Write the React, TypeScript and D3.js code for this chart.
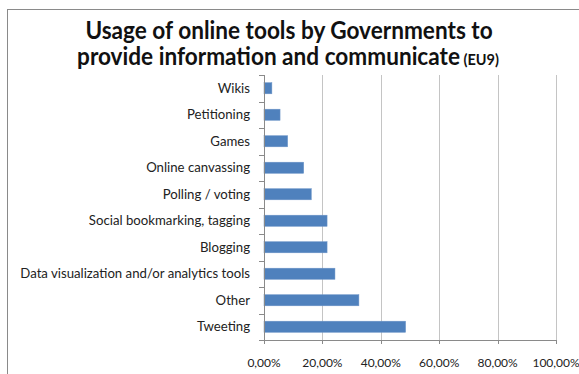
import React from "react";
import * as d3 from "d3";

const categories = [
  "Wikis",
  "Petitioning",
  "Games",
  "Online canvassing",
  "Polling / voting",
  "Social bookmarking, tagging",
  "Blogging",
  "Data visualization and/or analytics tools",
  "Other",
  "Tweeting",
];
const values = [2.7, 5.5, 8.1, 13.6, 16.2, 21.6, 21.6, 24.3, 32.5, 48.5];
const xTicks = [0, 20, 40, 60, 80, 100];
const titleLine1 = "Usage of online tools by Governments to";
const titleLine2 = "provide information and communicate";
const titleSuffix = " (EU9)";

const W = 579;
const H = 374;
const font = "Lato, 'Open Sans', sans-serif";

export default function App() {
  const x = d3.scaleLinear().domain([0, 100]).range([264, 556]);
  const y = d3.scaleBand<string>().domain(categories).range([75, 340]).paddingInner(0.58).paddingOuter(0.29);
  const band = d3.scaleBand<string>().domain(categories).range([75, 340]);
  const fmt = (v: number) => v.toFixed(2).replace(".", ",") + "%";

  return (
    <svg width={W} height={H} style={{ position: "absolute", left: 0, top: 0, background: "#fff" }}>
      <rect x={7.5} y={9.5} width={700} height={500} fill="#fff" stroke="#8a8a8a" strokeWidth={1} />
      <g transform="translate(289,38.5) scale(1,1.1)">
        <text x={0} y={0} textAnchor="middle" fontFamily={font} fontWeight="bold" fontSize={22.6} fill="#111">
          {titleLine1}
        </text>
      </g>
      <g transform="translate(288,65) scale(1,1.1)">
        <text x={0} y={0} textAnchor="middle" fontFamily={font} fontWeight="bold" fontSize={22.6} fill="#111">
          {titleLine2}
          <tspan fontSize={14.5}>{titleSuffix}</tspan>
        </text>
      </g>
      {xTicks.map((t) => (
        <g key={t}>
          {t > 0 && (
            <line x1={Math.round(x(t)) + 0.5} x2={Math.round(x(t)) + 0.5} y1={75} y2={340} stroke="#c4c4c4" />
          )}
          <line x1={Math.round(x(t)) + 0.5} x2={Math.round(x(t)) + 0.5} y1={340} y2={344} stroke="#8a8a8a" />
          <text x={x(t)} y={367} textAnchor="middle" fontFamily={font} fontSize={12} fill="#222">
            {fmt(t)}
          </text>
        </g>
      ))}
      {categories.map((c, i) => (
        <g key={c}>
          <rect
            x={x(0)}
            y={y(c)!}
            width={x(values[i]) - x(0)}
            height={y.bandwidth()}
            fill="#4f81bd"
            stroke="#6f96c8"
            strokeWidth={0.5}
          />
          <text
            x={250}
            y={band(c)! + band.bandwidth() / 2 + 4.5}
            textAnchor="end"
            fontFamily={font}
            fontSize={13.2}
            fill="#222"
          >
            {c}
          </text>
        </g>
      ))}
      {d3.range(categories.length + 1).map((i) => (
        <line
          key={i}
          x1={259}
          x2={264}
          y1={Math.round(75 + i * band.bandwidth()) + 0.5}
          y2={Math.round(75 + i * band.bandwidth()) + 0.5}
          stroke="#8a8a8a"
        />
      ))}
      <line x1={264.5} x2={264.5} y1={75} y2={340} stroke="#8a8a8a" />
      <line x1={264} x2={556} y1={340.5} y2={340.5} stroke="#8a8a8a" />
    </svg>
  );
}
